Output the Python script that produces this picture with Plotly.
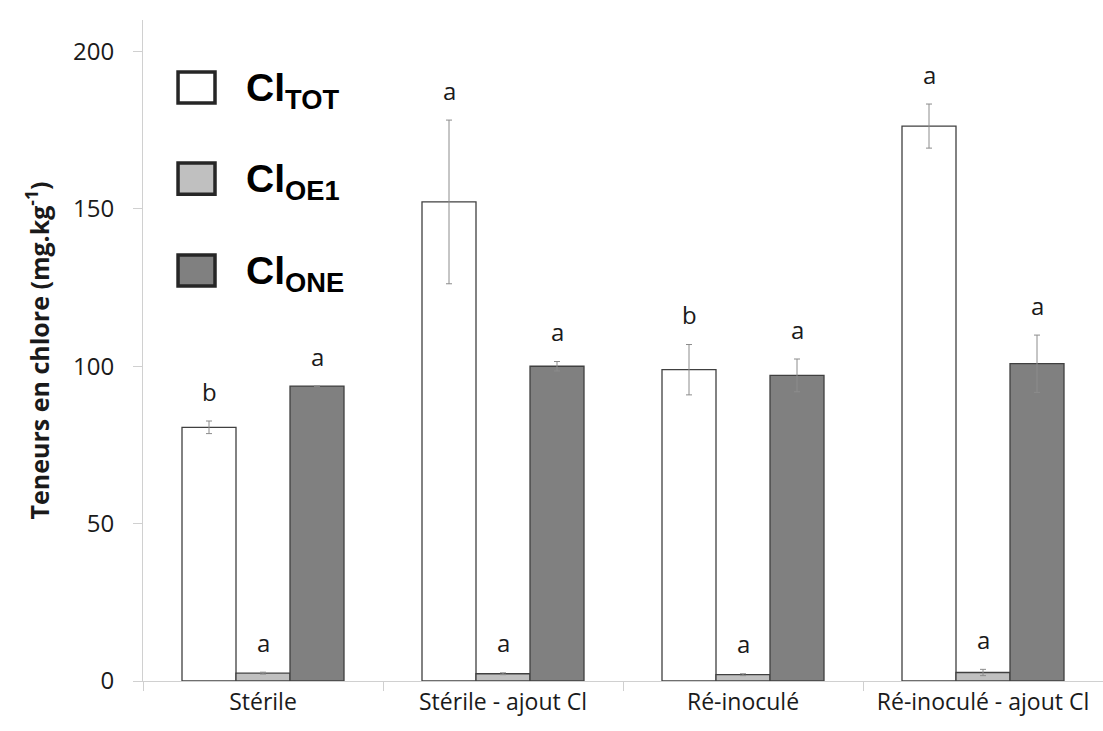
import plotly.graph_objects as go

categories = ["Stérile", "Stérile - ajout Cl", "Ré-inoculé", "Ré-inoculé - ajout Cl"]
series_names = ["Cl<sub>TOT</sub>", "Cl<sub>OE1</sub>", "Cl<sub>ONE</sub>"]

cl_tot = [80.6, 152.2, 98.9, 176.3]
cl_tot_err = [2.0, 26.0, 8.0, 7.0]
cl_oe1 = [2.5, 2.3, 2.0, 2.7]
cl_oe1_err = [0.3, 0.3, 0.3, 1.0]
cl_one = [93.7, 100.0, 97.1, 100.8]
cl_one_err = [0.0, 1.5, 5.2, 9.1]

letters_tot = ["b", "a", "b", "a"]
letters_oe1 = ["a", "a", "a", "a"]
letters_one = ["a", "a", "a", "a"]

y_ticks = [0, 50, 100, 150, 200]

fills = ["#ffffff", "#c0c0c0", "#808080"]
outline = "#404040"
err_color = "#8c8c8c"
font_family = "Open Sans, DejaVu Sans, sans-serif"

values = [cl_tot, cl_oe1, cl_one]
errors = [cl_tot_err, cl_oe1_err, cl_one_err]
letters = [letters_tot, letters_oe1, letters_one]

fig = go.Figure()
for name, vals, errs, fill in zip(series_names, values, errors, fills):
    fig.add_trace(go.Bar(
        x=categories, y=vals, name=name,
        marker=dict(color=fill, line=dict(color=outline, width=1.3)),
        error_y=dict(type="data", array=errs, visible=True,
                     color=err_color, thickness=1, width=3),
        showlegend=False,
    ))

bargap = 0.325
bw = (1 - bargap) / 3
offsets = [-bw, 0, bw]
annotations = []
for s, (vals, errs, lets) in enumerate(zip(values, errors, letters)):
    for i in range(len(categories)):
        annotations.append(dict(
            x=i + offsets[s], y=vals[i] + errs[i], xref="x", yref="y",
            text=lets[i], showarrow=False, yanchor="middle", yshift=30,
            font=dict(family=font_family, size=24, color="#1a1a1a"),
        ))

# legend drawn manually with large boxes
legend_y = [0.898, 0.760, 0.621]
shapes = []
for fill, yc, name in zip(fills, legend_y, series_names):
    shapes.append(dict(
        type="rect", xref="paper", yref="paper",
        x0=0.0365, x1=0.0750, y0=yc - 0.0235, y1=yc + 0.0235,
        fillcolor=fill, line=dict(color="#262626", width=3.5),
    ))
    annotations.append(dict(
        x=0.105, y=yc, xref="paper", yref="paper", xanchor="left", yanchor="middle",
        text="<b>" + name + "</b>", showarrow=False, yshift=-3,
        font=dict(family="Liberation Sans, Arial, sans-serif", size=39, color="#000000"),
    ))

fig.update_layout(
    width=1103, height=731,
    margin=dict(l=143, r=0, t=20, b=50),
    paper_bgcolor="white", plot_bgcolor="white",
    bargap=bargap, bargroupgap=0, barmode="group",
    annotations=annotations, shapes=shapes,
    font=dict(family=font_family, color="#1a1a1a"),
)
fig.update_xaxes(
    showline=True, linecolor="#d0d0d0", linewidth=1,
    ticks="outside", tickson="boundaries", ticklen=9, tickcolor="#d0d0d0",
    tickfont=dict(family=font_family, size=23, color="#1a1a1a"),
    showgrid=False, zeroline=False,
)
fig.update_yaxes(
    range=[0, 210], tickvals=y_ticks, ticktext=[str(v) for v in y_ticks],
    showline=True, linecolor="#d0d0d0", linewidth=1,
    ticks="outside", ticklen=9, tickcolor="#d0d0d0", ticklabelstandoff=14,
    tickfont=dict(family=font_family, size=24, color="#1a1a1a"),
    showgrid=False, zeroline=False,
    title=dict(text="<b>Teneurs en chlore (mg.kg<sup>-1</sup>)</b>",
               font=dict(family=font_family, size=25, color="#1a1a1a"), standoff=16),
)

fig.write_html("out.html", config={"displayModeBar": False},
               post_script="document.body.style.margin='0';document.body.style.overflow='hidden';")
